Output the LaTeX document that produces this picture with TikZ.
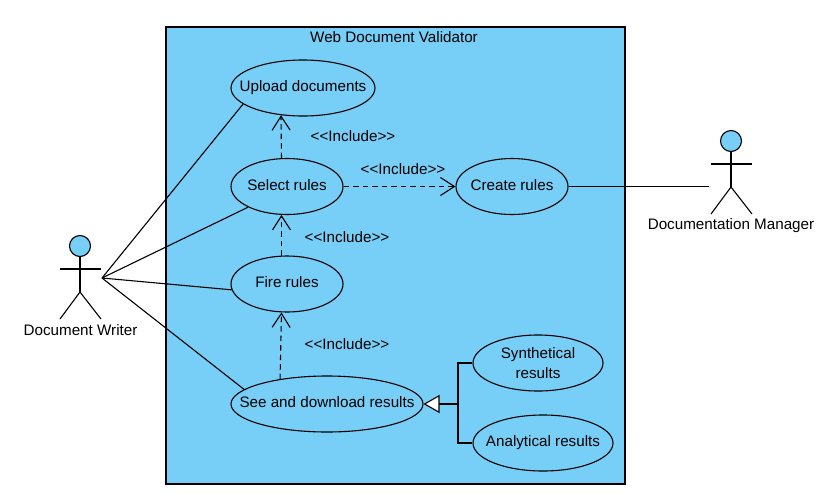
\documentclass[tikz,border=0pt]{standalone}
\usepackage{fontspec}
\setmainfont{Liberation Sans}
\usetikzlibrary{arrows.meta}
\usetikzlibrary{shapes.geometric}
\definecolor{umlblue}{HTML}{77CEF7}
\tikzset{
	usecasestyle/.style={ellipse,draw=black,fill=umlblue,line width=1.1pt,inner xsep=-25pt,inner ysep=-8pt,align=center,minimum height=56pt},
	singlestyle/.style={usecasestyle,text height=11pt,text depth=3.5pt},
	systemstyle/.style={rectangle,draw=black,fill=umlblue,line width=1.1pt,inner sep=0pt},
	labelstyle/.style={inner sep=0pt,anchor=base},
	headstyle/.style={circle,draw=black,fill=umlblue,line width=1.1pt,inner sep=0pt,minimum size=21pt},
	assocstyle/.style={line width=1.1pt},
	includestyle/.style={line width=1.1pt,dash pattern=on 5.5pt off 4pt,-{Straight Barb[length=14pt,width=18pt,line width=1.1pt]}},
	genstyle/.style={line width=1.1pt}
}
\begin{document}
\begin{tikzpicture}[x=1pt,y=-1pt,font=\fontsize{15.2}{20}\selectfont]
		\useasboundingbox (0,0) rectangle (832,493);
		% system box
		\node[systemstyle,minimum width=459pt,minimum height=457pt] (system) at (395.5,255.5) {};
		\node[labelstyle] (title) at (394,42) {Web Document Validator};
		% use cases
		\node[singlestyle,minimum width=144pt] (upload) at (303,88) {Upload documents};
		\node[singlestyle,minimum width=112pt] (select) at (287,186.5) {Select rules};
		\node[singlestyle,minimum width=112pt] (fire) at (287,284) {Fire rules};
		\node[singlestyle,minimum width=192pt] (see) at (327,404) {See and download results};
		\node[singlestyle,minimum width=112pt] (create) at (512,186.5) {Create rules};
		\node[usecasestyle,minimum width=130pt] (synth) at (538,363) {Synthetical\\results};
		\node[singlestyle,minimum width=140pt] (analyt) at (543,443) {Analytical results};
		% document writer
		\node[headstyle] (writerhead) at (80,246) {};
		\coordinate (writerhip) at (80,292);
		\coordinate (writerhub) at (102,278);
		\draw[assocstyle] (writerhead)--(writerhip);
		\draw[assocstyle] (60,269)--(101,269);
		\draw[assocstyle] (60,319)--(writerhip)--(101,319);
		\node[labelstyle] (writer) at (80.5,335) {Document Writer};
		% documentation manager
		\node[headstyle] (managerhead) at (731,141) {};
		\coordinate (managerhip) at (731,187);
		\coordinate (managerhub) at (709,186.5);
		\draw[assocstyle] (managerhead)--(managerhip);
		\draw[assocstyle] (711,164)--(752,164);
		\draw[assocstyle] (711,214)--(managerhip)--(752,214);
		\node[labelstyle] (manager) at (731,229) {Documentation Manager};
		% associations
		\draw[assocstyle] (writerhub)--(upload.195);
		\draw[assocstyle] (writerhub)--(select.208);
		\draw[assocstyle] (writerhub)--(fire.186);
		\draw[assocstyle] (writerhub)--(see.170);
		\draw[assocstyle] (create.east)--(managerhub);
		% includes
		\draw[includestyle] (select.101)--(upload.231);
		\draw[includestyle] (fire.101)--(select.259);
		\draw[includestyle] (see.152)--(fire.259);
		\draw[includestyle] (select.east)--(create.west);
		\node[labelstyle] (inc1) at (353,141) {<{}<Include>{}>};
		\node[labelstyle] (inc2) at (403,174) {<{}<Include>{}>};
		\node[labelstyle] (inc3) at (347,242) {<{}<Include>{}>};
		\node[labelstyle] (inc4) at (347,349) {<{}<Include>{}>};
		% generalisation
		\coordinate (genhub) at (458,404);
		\draw[genstyle] (synth.west)-|(genhub);
		\draw[genstyle] (analyt.west)-|(genhub);
		\draw[line width=2.2pt,-{Triangle[open,fill=white,length=16pt,width=18pt,line width=1.1pt]}] (genhub)--(see.east);
		\end{tikzpicture}
\end{document}
